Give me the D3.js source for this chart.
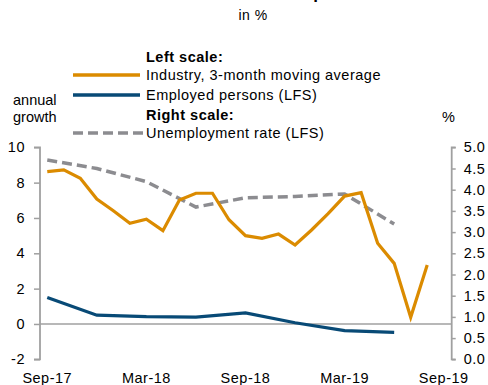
<!DOCTYPE html>
<html><head><meta charset="utf-8">
<script src="https://cdn.jsdelivr.net/npm/d3@7"></script>
<style>
body{margin:0;background:#fff;}
svg text{font-family:"Liberation Sans",Arial,sans-serif;fill:#000;letter-spacing:0.5px;}
</style></head>
<body><svg id="c" width="488" height="385"></svg>
<script>
const months = ["Sep-17","Oct-17","Nov-17","Dec-17","Jan-18","Feb-18","Mar-18","Apr-18","May-18","Jun-18","Jul-18","Aug-18",
  "Sep-18","Oct-18","Nov-18","Dec-18","Jan-19","Feb-19","Mar-19","Apr-19","May-19","Jun-19","Jul-19","Aug-19","Sep-19"];
const tickLabels = ["Sep-17","Mar-18","Sep-18","Mar-19","Sep-19"];
const industryMonths = months.slice(0,24);
const industry = [8.62,8.72,8.25,7.07,6.41,5.7,5.93,5.28,7.02,7.4,7.4,5.9,5.0,4.85,5.09,4.47,5.32,6.25,7.24,7.43,4.57,3.43,0.38,3.34];
const quarters = ["Sep-17","Dec-17","Mar-18","Jun-18","Sep-18","Dec-18","Mar-19","Jun-19"];
const employed = [1.5,0.5,0.41,0.39,0.63,0.07,-0.38,-0.48];
const unemployment = [4.7,4.5,4.19,3.59,3.81,3.84,3.9,3.19];
const leftTicks = [-2,0,2,4,6,8,10];
const rightTicks = [0,0.5,1,1.5,2,2.5,3,3.5,4,4.5,5];

const svg = d3.select("#c");
const x = d3.scaleBand().domain(months).range([39,452]).paddingInner(0).paddingOuter(0);
const cx = d => x(d) + x.bandwidth()/2;
const yL = d3.scaleLinear().domain([-2,10]).range([359.3,147.3]);
const yR = d3.scaleLinear().domain([0,5]).range([359.3,147.3]);
const axisCol = "#a0a0a0";
const cOrange = "#db8b00", cBlue = "#084a76", cGrey = "#8c8c90";
const fs = "14.5px";

// title (cut off at the top edge, as in the reference) and subtitle
svg.append("text").attr("x",129).attr("y",-1).attr("text-anchor","start")
  .style("font-weight","bold").style("font-size","17px").style("letter-spacing","0px").text("Labour market and output");
svg.append("text").attr("x",253).attr("y",20).attr("text-anchor","middle").style("font-size","14px").text("in %");

// axes
const gL = svg.append("g").attr("transform","translate(40,0)")
  .call(d3.axisLeft(yL).tickValues(leftTicks).tickSize(6).tickPadding(9).tickFormat(d=>String(d)));
const gR = svg.append("g").attr("transform","translate(451.7,0)")
  .call(d3.axisRight(yR).tickValues(rightTicks).tickSize(4).tickPadding(8).tickFormat(d3.format(".1f")));
[gL,gR].forEach(g=>{
  g.select(".domain").attr("stroke",axisCol).attr("stroke-width",1.8);
  g.selectAll(".tick line").attr("stroke",axisCol).attr("stroke-width",1.5);
  g.selectAll(".tick text").style("font-size",fs).style("font-family","'Liberation Sans',Arial,sans-serif").attr("fill","#000");
});
gL.select(".domain").attr("d",`M-6,${yL(10)}H0V${yL(-2)}H-6`);
gR.select(".domain").attr("d",`M4,${yR(5)}H0V${yR(0)}H4`);

// zero line
svg.append("line").attr("x1",40).attr("x2",451.7).attr("y1",yL(0)).attr("y2",yL(0))
  .attr("stroke",axisCol).attr("stroke-width",1.5);

// x labels
svg.append("g").selectAll("text").data(tickLabels).join("text")
  .attr("x",d=>cx(d)).attr("y",383).attr("text-anchor","middle").style("font-size",fs).text(d=>d);

// lines
const lineL = d3.line().x(d=>cx(d[0])).y(d=>yL(d[1]));
const lineR = d3.line().x(d=>cx(d[0])).y(d=>yR(d[1]));
svg.append("path").attr("d",lineR(quarters.map((q,i)=>[q,unemployment[i]])))
  .attr("fill","none").attr("stroke",cGrey).attr("stroke-width",3.5).attr("stroke-dasharray","10,5");
svg.append("path").attr("d",lineL(quarters.map((q,i)=>[q,employed[i]])))
  .attr("fill","none").attr("stroke",cBlue).attr("stroke-width",3.2);
svg.append("path").attr("d",lineL(industryMonths.map((m,i)=>[m,industry[i]])))
  .attr("fill","none").attr("stroke",cOrange).attr("stroke-width",3.2).attr("stroke-linejoin","miter");

// legend
const leg = svg.append("g");
const lx1 = 73, lx2 = 140, tx = 146;
leg.append("text").attr("x",tx).attr("y",62).style("font-weight","bold").style("font-size",fs).text("Left scale:");
leg.append("line").attr("x1",lx1).attr("x2",lx2).attr("y1",75).attr("y2",75).attr("stroke",cOrange).attr("stroke-width",3.5);
leg.append("text").attr("x",tx).attr("y",80).style("font-size",fs).text("Industry, 3-month moving average");
leg.append("line").attr("x1",lx1).attr("x2",lx2).attr("y1",95).attr("y2",95).attr("stroke",cBlue).attr("stroke-width",3.5);
leg.append("text").attr("x",tx).attr("y",100).style("font-size",fs).text("Employed persons (LFS)");
leg.append("text").attr("x",tx).attr("y",120).style("font-weight","bold").style("font-size",fs).text("Right scale:");
leg.append("line").attr("x1",lx1).attr("x2",143).attr("y1",133).attr("y2",133).attr("stroke",cGrey).attr("stroke-width",3.5).attr("stroke-dasharray","10,5");
leg.append("text").attr("x",tx).attr("y",138).style("font-size",fs).text("Unemployment rate (LFS)");

// axis titles
svg.append("text").attr("x",13).attr("y",105).style("font-size",fs).style("letter-spacing","0px").text("annual");
svg.append("text").attr("x",13).attr("y",122).style("font-size",fs).style("letter-spacing","0px").text("growth");
svg.append("text").attr("x",442).attr("y",122).style("font-size",fs).text("%");
</script></body></html>
